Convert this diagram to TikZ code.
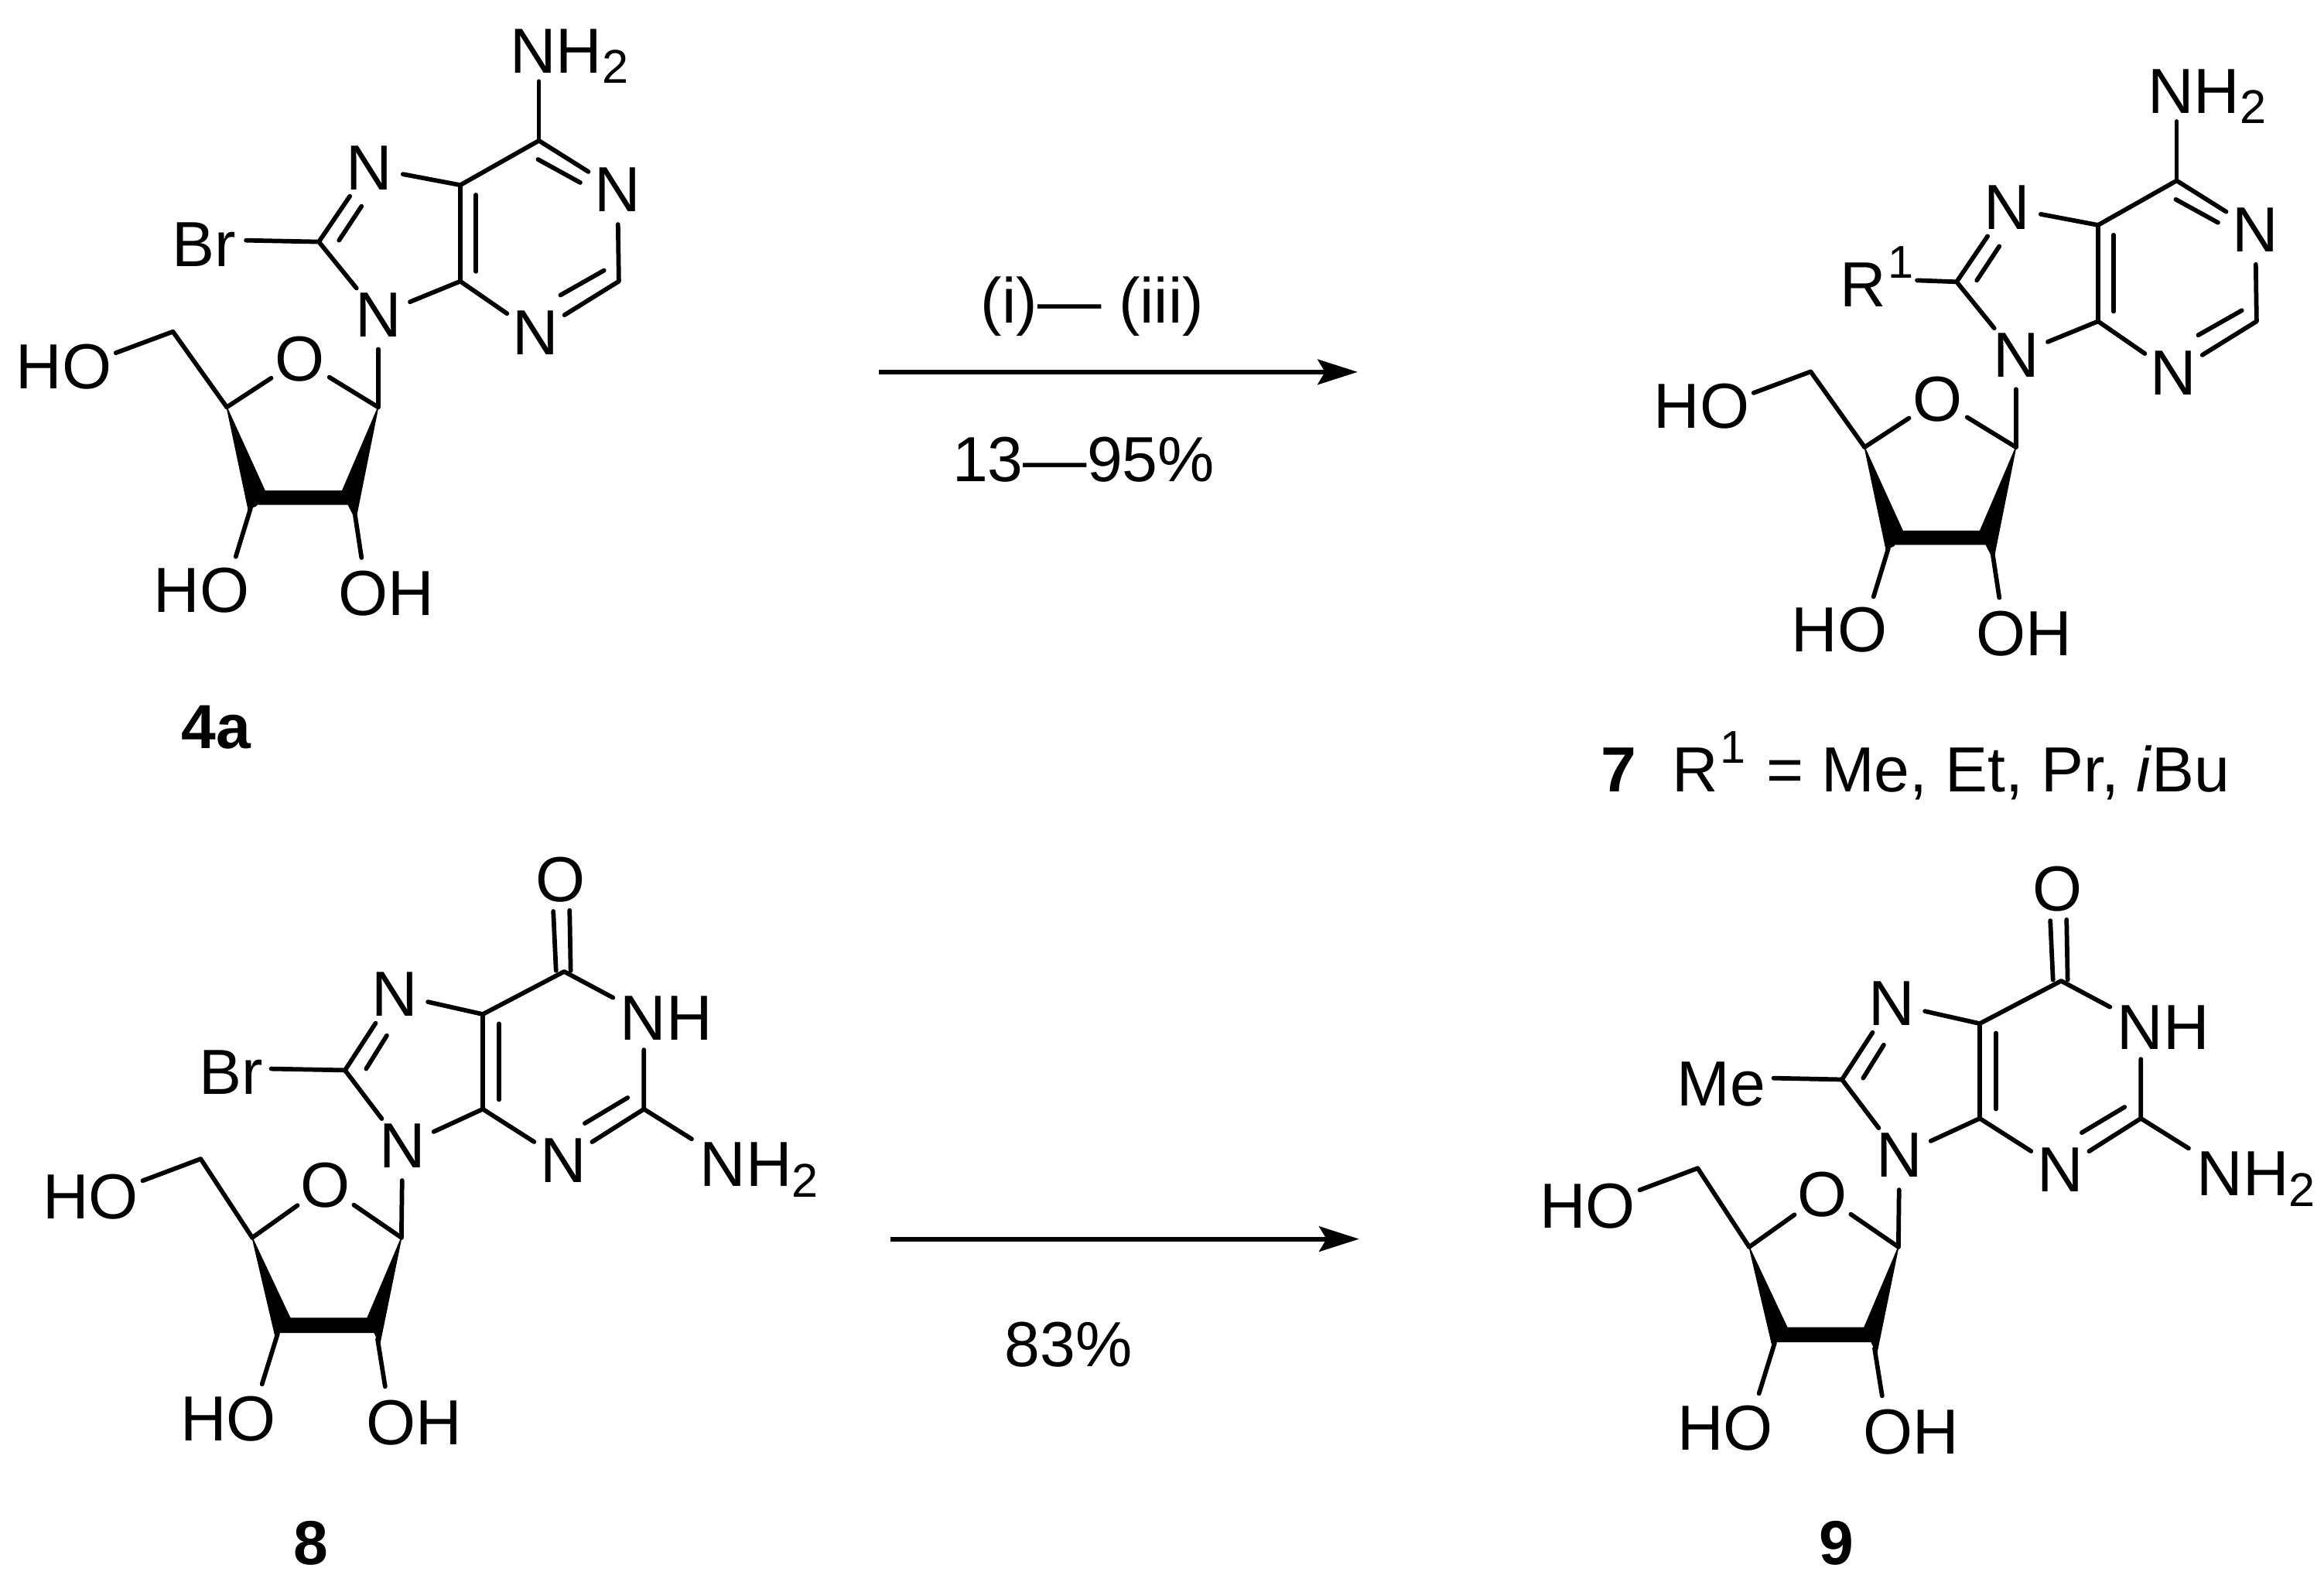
\documentclass[tikz,border=0pt]{standalone}
\usepackage{fontspec}
\setmainfont{Liberation Sans}
\usetikzlibrary{arrows.meta}
\newcommand{\subtwo}{\raisebox{-7pt}{\fontsize{32}{32}\selectfont 2}}
\newcommand{\supone}{\hspace{1.5pt}\raisebox{19pt}{\fontsize{31}{31}\selectfont 1}}
\tikzset{
  chemtext/.style={font=\fontsize{43}{43}\selectfont,inner sep=0pt,text=black},
  atom/.style={chemtext,circle,minimum size=46pt,anchor=center},
  grp/.style={chemtext,anchor=base west},
  bond/.style={line width=3pt,line cap=round,line join=round,black},
  solid wedge/.style={fill=black,draw=black,line width=0.6pt,line join=miter},
  rxn/.style={line width=3pt,black,-{Stealth[length=27pt,width=17pt,inset=5pt]}},
  caption/.style={font=\fontsize{42}{42}\selectfont\bfseries,inner sep=0pt},
  cond/.style={font=\fontsize{43}{43}\selectfont,inner sep=0pt}
}
% #1 prefix, #2 dx, #3 dy, #4 substituent text, #5 west x, #6 baseline y, #7 bond end x, #8 bond end y
\newcommand{\adenine}[8]{
\begin{scope}[shift={(#2,#3)},x=.303pt,y=-.333pt,name prefix=#1-]
  \coordinate (C6) at (1200,285); \coordinate (C5) at (1025,375); \coordinate (C4) at (1025,570);
  \coordinate (C2) at (1378,570); \coordinate (C8) at (710,490); \coordinate (C1p) at (842,825);
  \coordinate (C4p) at (505,825); \coordinate (C5p) at (385,672); \coordinate (C2p) at (790,1040);
  \coordinate (C3p) at (558,1030);
  \coordinate (endNH) at (1200,165); \coordinate (endX) at (#7,#8);
  \coordinate (endHOa) at (258,715); \coordinate (endHOb) at (525,1128); \coordinate (endOH) at (805,1130);
  \node[atom] (N7) at (822,340) {N};
  \node[atom] (N9) at (842,638) {N};
  \node[atom] (N3) at (1192,675) {N};
  \node[atom] (N1) at (1375,385) {N};
  \node[atom] (O) at (668,728) {O};
  \node[grp] (NH2) at (1135,148) {NH\subtwo};
  \node[grp] (X) at (#5,#6) {#4};
  \node[grp] (HOa) at (35,787) {HO};
  \node[grp] (HOb) at (342,1240) {HO};
  \node[grp] (OH) at (753,1247) {OH};
  \draw[bond] (C6) -- (endNH);
  \draw[bond] (C6) -- (C5) -- (C4) -- (N3);
  \draw[bond] (C6) -- (N1);
  \draw[bond] (N1) -- (C2) -- (N3);
  \draw[bond] (C5) -- (N7);
  \draw[bond] (C4) -- (N9);
  \draw[bond] (N7) -- (C8) -- (N9);
  \draw[bond] (endX) -- (C8);
  \draw[bond] (1060,395) -- (1060,550);
  \draw[bond] (1198,323) -- (1292,370);
  \draw[bond] (1345,548) -- (1248,598);
  \draw[bond] (755,487) -- (805,418);
  \draw[bond] (N9) -- (C1p);
  \draw[bond] (O) -- (C1p);
  \draw[bond] (O) -- (C4p);
  \draw[bond] (C4p) -- (C5p) -- (endHOa);
  \draw[bond] (C3p) -- (endHOb);
  \draw[bond] (C2p) -- (endOH);
  \fill[solid wedge] (C4p) -- (590,995) -- (570,1025) -- (553,1032) -- cycle;
  \fill[solid wedge] (590,995) -- (762,995) -- (775,1022) -- (570,1022) -- cycle;
  \fill[solid wedge] (C1p) -- (762,995) -- (775,1022) -- (792,1052) -- cycle;
\end{scope}}
% #1 prefix, #2 dx, #3 dy, #4 substituent text, #5 west x, #6 baseline y, #7 bond end x, #8 bond end y
\newcommand{\guanine}[8]{
\begin{scope}[shift={(#2,#3)},x=.366pt,y=-.32pt,name prefix=#1-]
  \coordinate (C6) at (1040,287); \coordinate (C5) at (890,377); \coordinate (C4) at (890,577);
  \coordinate (C2) at (1187,577); \coordinate (C8) at (636,495); \coordinate (C1p) at (740,848);
  \coordinate (C4p) at (465,848); \coordinate (C5p) at (370,682); \coordinate (C2p) at (696,1062);
  \coordinate (C3p) at (512,1050);
  \coordinate (endX) at (#7,#8); \coordinate (endNH) at (1275,640); \coordinate (endN1) at (1130,342);
  \coordinate (endN1b) at (1187,452);
  \coordinate (endHOa) at (263,728); \coordinate (endHOb) at (483,1157); \coordinate (endOH) at (710,1162);
  \node[atom] (Oc) at (1033,93) {O};
  \node[atom] (N7) at (727,335) {N};
  \node[atom] (N9) at (742,655) {N};
  \node[atom] (N3) at (1038,685) {N};
  \node[atom] (O) at (600,738) {O};
  \node[grp] (NH) at (1143,432) {NH};
  \node[grp] (NH2) at (1290,740) {NH\subtwo};
  \node[grp] (X) at (#5,#6) {#4};
  \node[grp] (HOa) at (78,808) {HO};
  \node[grp] (HOb) at (332,1277) {HO};
  \node[grp] (OH) at (675,1285) {OH};
  \draw[bond] (1020,160) -- (1025,285);
  \draw[bond] (1050,158) -- (1052,285);
  \draw[bond] (C5) -- (C6) -- (endN1);
  \draw[bond] (endN1b) -- (C2) -- (N3);
  \draw[bond] (C2) -- (endNH);
  \draw[bond] (C5) -- (C4) -- (N3);
  \draw[bond] (C5) -- (N7);
  \draw[bond] (C4) -- (N9);
  \draw[bond] (N7) -- (C8) -- (N9);
  \draw[bond] (endX) -- (C8);
  \draw[bond] (920,397) -- (920,557);
  \draw[bond] (1157,553) -- (1078,607);
  \draw[bond] (675,492) -- (713,422);
  \draw[bond] (N9) -- (C1p);
  \draw[bond] (O) -- (C1p);
  \draw[bond] (O) -- (C4p);
  \draw[bond] (C4p) -- (C5p) -- (endHOa);
  \draw[bond] (C3p) -- (endHOb);
  \draw[bond] (C2p) -- (endOH);
  \fill[solid wedge] (C4p) -- (535,1018) -- (515,1048) -- (508,1058) -- cycle;
  \fill[solid wedge] (535,1018) -- (677,1018) -- (690,1048) -- (512,1048) -- cycle;
  \fill[solid wedge] (C1p) -- (677,1018) -- (690,1048) -- (700,1072) -- cycle;
\end{scope}}
\begin{document}
\begin{tikzpicture}[x=1pt,y=-1pt]
\useasboundingbox (0,0) rectangle (1568,1067);
\fill[white] (0,0) rectangle (1568,1067);
\adenine{a}{0}{0}{Br}{383}{540}{548}{487}
\adenine{s}{1105}{27}{R\supone}{450}{540}{622}{487}
\guanine{g}{0}{563.7}{Br}{367}{545}{500}{492}
\guanine{m}{1010}{570}{Me}{331}{550}{510}{492}
\coordinate (r1a) at (593,251); \coordinate (r1b) at (916,251);
\coordinate (r2a) at (601,836); \coordinate (r2b) at (917,836);
\draw[rxn] (r1a) -- (r1b);
\draw[rxn] (r2a) -- (r2b);
\node[cond] (c1) at (737,207) {(i)— (iii)};
\node[cond] (c2) at (731,310) {13—95\%};
\node[cond] (c3) at (721,907) {83\%};
\node[caption] (l4a) at (146,491) {4a};
\node[caption] (l8) at (210,1041) {8};
\node[caption] (l9) at (1239,1041) {9};
\node[chemtext,anchor=base west] (l7) at (1080,534) {{\bfseries 7}\hspace{24pt}R\supone{}\hspace{2pt} = Me, Et, Pr, \textit{i}Bu};
\end{tikzpicture}
\end{document}
